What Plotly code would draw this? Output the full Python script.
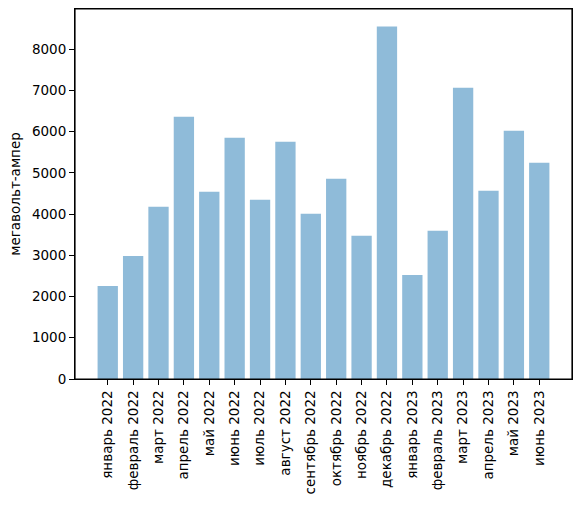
import plotly.graph_objects as go

months = ['январь 2022', 'февраль 2022', 'март 2022', 'апрель 2022', 'май 2022',
          'июнь 2022', 'июль 2022', 'август 2022', 'сентябрь 2022', 'октябрь 2022',
          'ноябрь 2022', 'декабрь 2022', 'январь 2023', 'февраль 2023', 'март 2023',
          'апрель 2023', 'май 2023', 'июнь 2023']
values = [2257, 2985, 4175, 6359, 4539, 5850, 4345, 5752, 4005, 4854,
          3471, 8544, 2524, 3592, 7063, 4563, 6019, 5243]
y_ticks = [0, 1000, 2000, 3000, 4000, 5000, 6000, 7000, 8000]

fig = go.Figure()
fig.add_trace(go.Bar(x=list(range(len(months))), y=values, width=0.8,
                     marker=dict(color='rgba(31,119,180,0.5)', line=dict(width=0))))

ymax = max(values) * 1.05
fig.update_xaxes(range=[-1.29, len(months) - 1 + 1.29], tickmode='array',
                 tickvals=list(range(len(months))), ticktext=months, tickangle=-90,
                 showline=True, linewidth=1, linecolor='black', mirror=True,
                 ticks='outside', ticklen=5, tickcolor='black', showgrid=False,
                 zeroline=False, automargin=False, tickfont=dict(size=13.5))
fig.update_yaxes(range=[0, ymax], tickvals=y_ticks,
                 title=dict(text='мегавольт-ампер', standoff=8, font=dict(size=13.5)),
                 showline=True, linewidth=1, linecolor='black', mirror=True,
                 ticks='outside', ticklen=5, tickcolor='black', showgrid=False,
                 zeroline=False, automargin=False, tickfont=dict(size=13.5))
# frame around the plot area
fig.add_shape(type='rect', xref='paper', yref='paper', x0=0, y0=0, x1=1, y1=1,
              line=dict(color='black', width=1.2), layer='above')
fig.update_layout(width=580, height=506, plot_bgcolor='white', paper_bgcolor='white',
                  margin=dict(l=75, r=8, t=9, b=127), showlegend=False,
                  font=dict(family='DejaVu Sans', size=13, color='black'))
# drop the browser's default body margin so the figure sits at the window corner
fig.write_html("out.html", config={'displayModeBar': False},
               post_script="document.body.style.margin='0';")
